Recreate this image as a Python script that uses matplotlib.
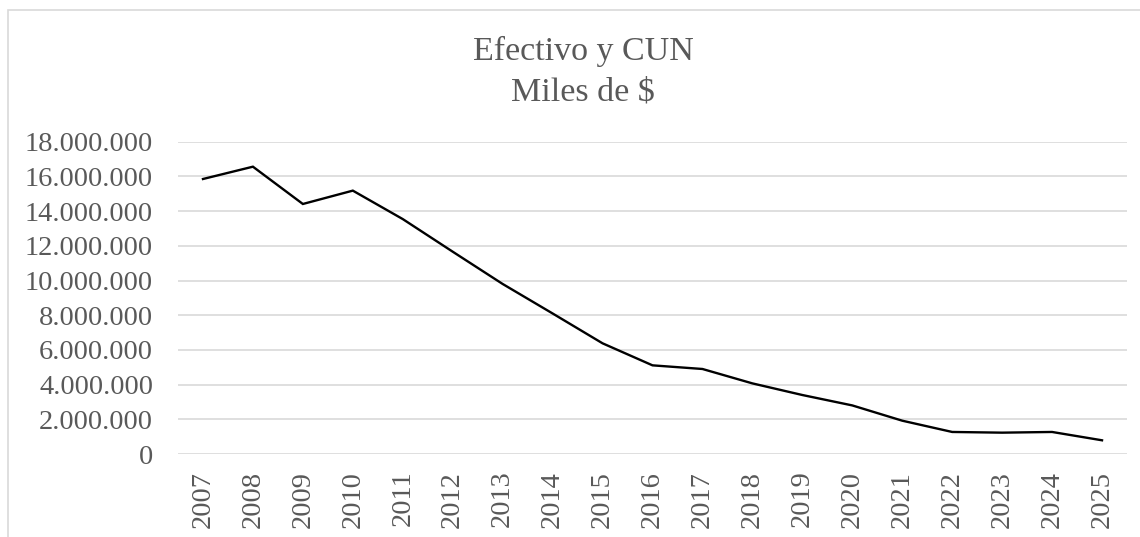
import matplotlib
matplotlib.use('Agg')

import matplotlib.pyplot as plt
from matplotlib.patches import Rectangle
from matplotlib.ticker import FuncFormatter

# Data (miles de $)
years = [str(y) for y in range(2007, 2026)]
efectivo_cun = [15850000, 16560000, 14410000, 15180000, 13540000, 11660000,
                9800000, 8100000, 6380000, 5110000, 4900000, 4070000,
                3400000, 2800000, 1920000, 1270000, 1230000, 1270000, 790000]
y_ticks = list(range(0, 18000001, 2000000))

plt.rcParams['font.family'] = ['Liberation Serif', 'DejaVu Serif']
text_color = '#595959'
grid_color = '#d9d9d9'

fig = plt.figure(figsize=(11.4, 5.37), dpi=100)

# outer chart frame (Excel style)
fig.patches.append(Rectangle((8 / 1140, -0.05), 1.2, 1 - 10 / 537 + 0.05,
                             transform=fig.transFigure, fill=False,
                             edgecolor=grid_color, linewidth=1.2))

ax = fig.add_axes([178 / 1140, 1 - 454 / 537, (1127 - 178) / 1140, (454 - 141.7) / 537])

x = list(range(len(years)))
ax.plot(x, efectivo_cun, color='black', linewidth=1.7, solid_joinstyle='miter')

ax.set_xlim(-0.5, len(years) - 0.5)
ax.set_ylim(0, 18000000)
ax.set_yticks(y_ticks)
ax.yaxis.set_major_formatter(FuncFormatter(lambda v, p: f'{int(v):,}'.replace(',', '.')))
ax.set_xticks(x)
ax.set_xticklabels(years, rotation=90)

ax.grid(axis='y', color=grid_color, linewidth=1.2)
ax.set_axisbelow(True)
for s in ax.spines.values():
    s.set_visible(False)
ax.tick_params(axis='both', length=0, labelsize=20.5, labelcolor=text_color)
ax.tick_params(axis='y', pad=18)
ax.tick_params(axis='x', pad=12)

fig.text(583 / 1140, 1 - 51 / 537, 'Efectivo y CUN', ha='center', va='center',
         fontsize=24.5, color=text_color)
fig.text(583 / 1140, 1 - 92 / 537, 'Miles de $', ha='center', va='center',
         fontsize=24.5, color=text_color)

fig.savefig('out.png', dpi=100)
